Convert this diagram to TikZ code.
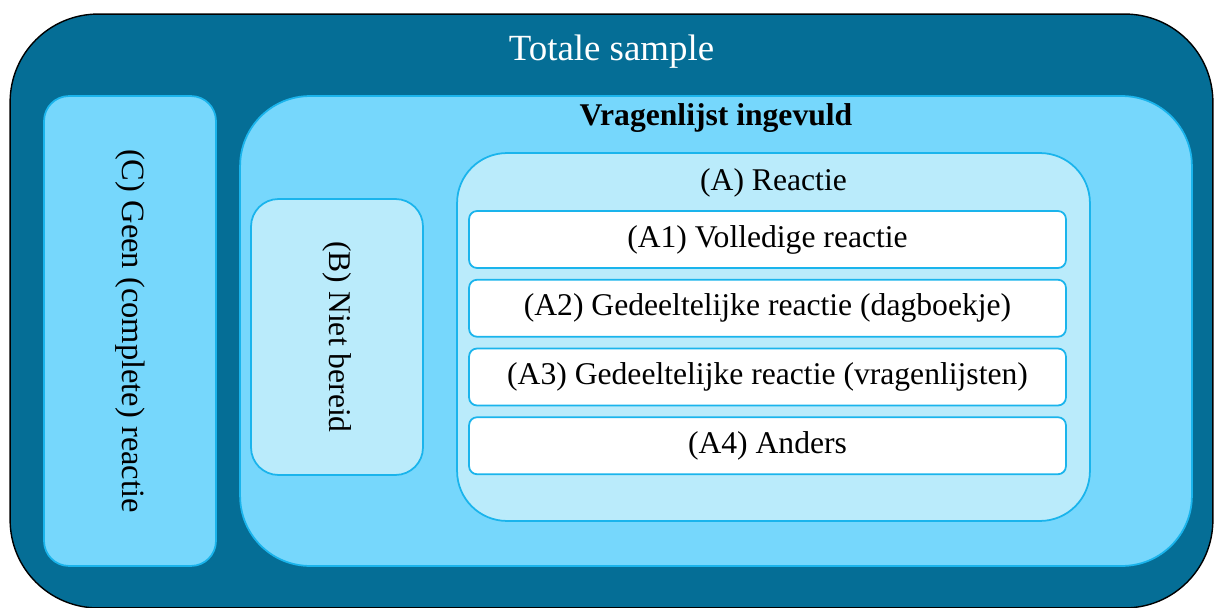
\documentclass[tikz,border=0pt]{standalone}
\usepackage{fontspec}
\setmainfont{Liberation Serif}
\usepackage{xcolor}
\usetikzlibrary{positioning}

\definecolor{donker}{RGB}{5,110,150}
\definecolor{midden}{RGB}{118,215,252}
\definecolor{licht}{RGB}{186,235,251}
\definecolor{rand}{RGB}{26,180,236}

\begin{document}
\begin{tikzpicture}[x=0.02cm, y=-0.02cm,
    groep/.style={draw=rand, line width=1pt, fill=midden, inner sep=0pt},
    subgroep/.style={draw=rand, line width=1pt, fill=licht, inner sep=0pt},
    regel/.style={draw=rand, line width=1pt, fill=white, rounded corners=0.16cm,
        minimum width=11.94cm, minimum height=1.14cm, inner sep=0pt,
        font=\fontsize{18}{21}\selectfont}]
    \useasboundingbox (0,0) rectangle (1214,608);
    \clip (0,0) rectangle (1214,608);

    % buitenste kader
    \node[draw=black, line width=0.8pt, fill=donker, rounded corners=1.76cm,
        minimum width=24.06cm, minimum height=11.88cm, inner sep=0pt] (totaal) at (611.5,311) {};
    \node[white, font=\fontsize{21}{25}\selectfont] (totaaltitel) at ([yshift=-0.76cm]totaal.north) {Totale sample};

    \node[groep, rounded corners=0.5cm, rotate=-90, minimum width=9.4cm, minimum height=3.44cm,
        font=\fontsize{18.5}{22}\selectfont] (geen) at (130,331) {(C) Geen (complete) reactie};

    \node[groep, rounded corners=1.4cm, minimum width=19.04cm, minimum height=9.4cm] (ingevuld) at (716,331) {};
    \node[font=\fontsize{18}{21}\selectfont\bfseries] (ingevuldtitel) at ([yshift=-0.46cm]ingevuld.north) {Vragenlijst ingevuld};

    \node[subgroep, rounded corners=0.55cm, rotate=-90, minimum width=5.52cm, minimum height=3.44cm,
        font=\fontsize{18}{21}\selectfont] (nietbereid) at (337,337) {(B) Niet bereid};

    \node[subgroep, rounded corners=1cm, minimum width=12.66cm, minimum height=7.36cm] (reactie) at (773.5,337) {};
    \node[font=\fontsize{18}{21}\selectfont] (reactietitel) at ([yshift=-0.62cm]reactie.north) {(A) Reactie};

    \node[regel] (a1) at (767.5,239.5) {(A1) Volledige reactie};
    \node[regel, below=0.2cm of a1] (a2) {(A2) Gedeeltelijke reactie (dagboekje)};
    \node[regel, below=0.2cm of a2] (a3) {(A3) Gedeeltelijke reactie (vragenlijsten)};
    \node[regel, below=0.2cm of a3] (a4) {(A4) Anders};
\end{tikzpicture}
\end{document}
